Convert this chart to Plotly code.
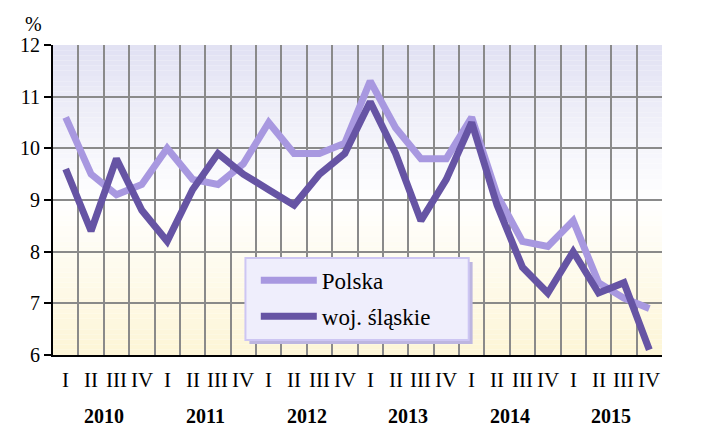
import plotly.graph_objects as go

years = ["2010", "2011", "2012", "2013", "2014", "2015"]
quarters = ["I", "II", "III", "IV"]
polska = [10.6, 9.5, 9.1, 9.3,
          10.0, 9.4, 9.3, 9.7,
          10.5, 9.9, 9.9, 10.1,
          11.3, 10.4, 9.8, 9.8,
          10.6, 9.1, 8.2, 8.1,
          8.6, 7.4, 7.1, 6.9]
slaskie = [9.6, 8.4, 9.8, 8.8,
           8.2, 9.2, 9.9, 9.5,
           9.2, 8.9, 9.5, 9.9,
           10.9, 9.9, 8.6, 9.4,
           10.5, 8.9, 7.7, 7.2,
           8.0, 7.2, 7.4, 6.1]

n = len(polska)
xs = list(range(1, n + 1))
FONT = "Liberation Serif"

fig = go.Figure()
fig.add_trace(go.Scatter(x=xs, y=polska, name="Polska", mode="lines",
                         legendgroup="a",
                         line=dict(color="#a898e0", width=7)))
fig.add_trace(go.Scatter(x=xs, y=slaskie, name="woj. śląskie", mode="lines",
                         legendgroup="b",
                         line=dict(color="#6654a4", width=7)))

# background gradient bands
def lerp(a, b, t):
    return tuple(round(a[i] + (b[i] - a[i]) * t) for i in range(3))
bottom = (253, 245, 214)
mid = (255, 255, 255)
top = (225, 225, 243)
N = 60
shapes = []
for k in range(N):
    t = (k + 0.5) / N
    if t < 0.5:
        c = lerp(bottom, mid, t / 0.5)
    else:
        c = lerp(mid, top, (t - 0.5) / 0.5)
    shapes.append(dict(type="rect", xref="x domain", yref="y domain",
                       x0=0, x1=1, y0=k / N, y1=(k + 1) / N,
                       fillcolor="rgb(%d,%d,%d)" % c, line=dict(width=0),
                       layer="below"))
# legend box: shadow + frame
shapes.append(dict(type="rect", xref="paper", yref="paper",
                   x0=0.3225, x1=0.689, y0=0.0355, y1=0.300,
                   fillcolor="#bdb6e0", line=dict(width=0), layer="above"))
shapes.append(dict(type="rect", xref="paper", yref="paper",
                   x0=0.316, x1=0.6826, y0=0.0484, y1=0.3129,
                   fillcolor="#efeefc", line=dict(color="#cdc6f3", width=2),
                   layer="above"))

annotations = []
for i, x in enumerate(xs):
    annotations.append(dict(x=x, y=-0.08, xref="x", yref="paper",
                            text=quarters[i % 4], showarrow=False,
                            yanchor="middle", font=dict(family=FONT, size=21, color="black")))
for j, yr in enumerate(years):
    annotations.append(dict(x=4 * j + 2.5, y=-0.196, xref="x", yref="paper",
                            text="<b>%s</b>" % yr, showarrow=False,
                            yanchor="middle", font=dict(family=FONT, size=20, color="black")))
annotations.append(dict(x=24.8, y=-0.08, xref="x", yref="paper",
                        text="kw.", showarrow=False, xanchor="left", yanchor="middle",
                        font=dict(family=FONT, size=21, color="black")))
annotations.append(dict(x=-0.05, y=1.068, xref="paper", yref="paper",
                        text="%", showarrow=False, yanchor="middle",
                        font=dict(family=FONT, size=20, color="black")))

fig.update_layout(
    width=702, height=426,
    margin=dict(l=40, r=48, t=37, b=79),
    paper_bgcolor="white", plot_bgcolor="white",
    font=dict(family=FONT, size=20, color="black"),
    shapes=shapes, annotations=annotations,
    showlegend=True,
    legend=dict(x=0.333, y=0.31, xanchor="left", yanchor="top",
                bgcolor="rgba(0,0,0,0)", borderwidth=0,
                font=dict(family=FONT, size=23, color="black"),
                itemwidth=56, tracegroupgap=3),
    xaxis=dict(range=[0.5, n + 0.5], tickmode="array",
               tickvals=[i + 0.5 for i in range(0, n + 1)],
               showticklabels=False, ticks="",
               showgrid=True, gridcolor="#8a8a8a", gridwidth=2,
               showline=True, linecolor="black", linewidth=2,
               zeroline=False, fixedrange=True),
    yaxis=dict(range=[6, 12], dtick=1, tick0=6,
               showgrid=True, gridcolor="#8a8a8a", gridwidth=2,
               showline=True, linecolor="black", linewidth=2,
               ticks="outside", ticklen=7, tickwidth=2, tickcolor="black",
               tickfont=dict(family=FONT, size=20, color="black"),
               zeroline=False, fixedrange=True),
)

fig.write_html("out.html")
